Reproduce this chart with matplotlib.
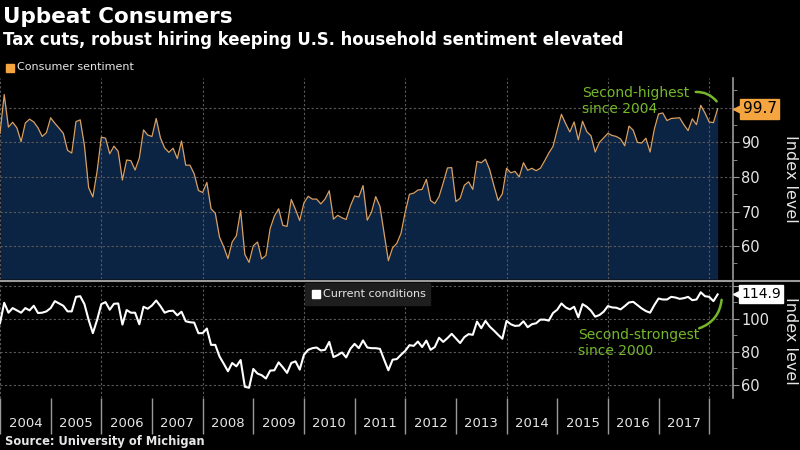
import numpy as np
import matplotlib.pyplot as plt
from matplotlib.ticker import MultipleLocator, FixedLocator, NullFormatter

# monthly values, Dec 2003 .. Feb 2018
sentiment = [
    92.6,
    103.8, 94.4, 95.8, 94.2, 90.2, 95.6, 96.7, 95.9, 94.2, 91.7, 92.8, 97.1,
    95.5, 94.1, 92.6, 87.7, 86.9, 96.0, 96.5, 89.1, 76.9, 74.2, 81.6, 91.5,
    91.2, 86.7, 88.9, 87.4, 79.1, 84.9, 84.7, 82.0, 85.4, 93.6, 92.1, 91.7,
    96.9, 91.3, 88.4, 87.1, 88.3, 85.3, 90.4, 83.4, 83.4, 80.9, 76.1, 75.5,
    78.4, 70.8, 69.5, 62.6, 59.8, 56.4, 61.2, 63.0, 70.3, 57.6, 55.3, 60.1,
    61.2, 56.3, 57.3, 65.1, 68.7, 70.8, 66.0, 65.7, 73.5, 70.6, 67.4, 72.5,
    74.4, 73.6, 73.6, 72.2, 73.6, 76.0, 67.8, 68.9, 68.2, 67.7, 71.6, 74.5,
    74.2, 77.5, 67.5, 69.8, 74.3, 71.5, 63.7, 55.8, 59.5, 60.8, 63.7, 69.9,
    75.0, 75.3, 76.2, 76.4, 79.3, 73.2, 72.3, 74.3, 78.3, 82.6, 82.7, 72.9,
    73.8, 77.6, 78.6, 76.4, 84.5, 84.1, 85.1, 82.1, 77.5, 73.2, 75.1, 82.5,
    81.2, 81.6, 80.0, 84.1, 81.9, 82.5, 81.8, 82.5, 84.6, 86.9, 88.8, 93.6,
    98.1, 95.4, 93.0, 95.9, 90.7, 96.1, 93.1, 91.9, 87.2, 90.0, 91.3, 92.6,
    92.0, 91.7, 91.0, 89.0, 94.7, 93.5, 90.0, 89.8, 91.2, 87.2, 93.8, 98.2,
    98.5, 96.3, 96.9, 97.0, 97.1, 95.1, 93.4, 96.8, 95.1, 100.7, 98.5, 95.9,
    95.7, 99.7,
]

current = [
    97.4,
    109.8, 103.8, 106.6, 105.2, 103.8, 106.6, 105.2, 108.0, 103.6, 103.8, 104.6, 106.6,
    110.8, 109.4, 108.0, 104.6, 104.6, 113.4, 113.8, 109.0, 99.4, 91.4, 99.4, 109.0,
    110.2, 105.6, 109.2, 109.4, 96.6, 105.4, 103.8, 103.8, 96.8, 107.4, 106.2, 108.2,
    111.2, 107.8, 103.8, 104.8, 105.0, 102.2, 104.4, 98.6, 98.0, 97.8, 91.4, 91.4,
    94.2, 84.3, 84.3, 77.3, 72.9, 68.3, 73.3, 71.3, 75.1, 58.9, 58.3, 69.7,
    66.9, 65.9, 63.9, 68.7, 68.9, 73.7, 70.7, 67.3, 73.3, 74.3, 69.3, 78.3,
    81.3, 82.3, 82.7, 80.9, 81.3, 86.1, 76.9, 78.1, 79.7, 76.7, 81.9, 84.9,
    82.3, 87.0, 82.7, 82.3, 82.3, 81.9, 75.3, 68.9, 75.3, 75.7, 78.3, 80.7,
    84.1, 83.7, 86.3, 83.0, 86.9, 81.3, 83.0, 88.6, 86.1, 88.4, 91.0, 88.2,
    85.4, 89.0, 90.8, 90.4, 98.4, 94.4, 98.8, 95.4, 93.0, 90.4, 88.0, 98.8,
    96.8, 95.8, 96.0, 98.6, 95.0, 96.8, 97.4, 99.6, 99.6, 99.0, 103.6, 105.6,
    109.4, 107.0, 105.8, 107.4, 101.0, 109.0, 107.4, 105.0, 101.4, 102.4, 104.4, 107.8,
    107.0, 106.8, 105.8, 107.8, 110.0, 110.4, 108.4, 106.4, 104.8, 103.8, 108.4, 112.4,
    111.8, 111.8, 113.4, 113.0, 112.2, 112.6, 113.4, 111.4, 111.8, 116.2, 113.8, 113.4,
    110.8, 114.9,
]

years = list(range(2004, 2018))
year_labels = [str(y) for y in years]

# month-end positions, Dec 2003 sits on 2004.0
x = 2004 + np.arange(len(sentiment)) / 12.0

BG = "black"
GRID = "#5a5a5a"
AXIS = "#9a9a9a"
TXT = "#e6e6e6"
GREEN = "#76b82a"
ORANGE = "#f4a53f"
NAVY = "#0c2443"

plt.rcParams['font.family'] = ['DejaVu Sans']

fig = plt.figure(figsize=(8, 4.5), dpi=100, facecolor=BG)
ax1 = fig.add_axes([0, 1 - 279 / 450, 733 / 800, (279 - 78) / 450])
ax2 = fig.add_axes([0, 1 - 398 / 450, 733 / 800, (398 - 283) / 450])

XMIN, XMAX = 2004.0, 2018.47

for ax in (ax1, ax2):
    ax.set_facecolor(BG)
    ax.set_xlim(XMIN, XMAX)
    for s in ("top", "left", "bottom"):
        ax.spines[s].set_visible(False)
    ax.spines["right"].set_color(AXIS)
    ax.spines["right"].set_linewidth(1.2)
    ax.yaxis.tick_right()
    ax.tick_params(axis="y", which="both", colors=AXIS, labelcolor=TXT,
                   labelsize=10.5, direction="out", pad=2)
    ax.tick_params(axis="y", which="major", length=4)
    ax.tick_params(axis="y", which="minor", length=3)
    for yr in range(2004, 2019, 2):
        ax.axvline(yr, color=GRID, lw=0.8, ls=(0, (2, 2)), zorder=2)

# top panel
ax1.set_ylim(50.5, 108.6)
ax1.yaxis.set_major_locator(FixedLocator([60, 70, 80, 90, 100]))
ax1.yaxis.set_major_formatter(lambda v, p: "" if v == 100 else f"{v:.0f}")
ax1.yaxis.set_minor_locator(MultipleLocator(5))
ax1.grid(axis="y", which="major", color=GRID, lw=0.8, ls=(0, (2, 2)), zorder=2)
ax1.set_axisbelow(False)
ax1.fill_between(x, sentiment, 50.5, color=NAVY, lw=0, zorder=1)
ax1.plot(x, sentiment, color="#d9a062", lw=0.9, zorder=3)
ax1.set_xticks([])

# bottom panel
ax2.set_ylim(52.1, 121.8)
ax2.yaxis.set_major_locator(FixedLocator([60, 80, 100, 120]))
ax2.yaxis.set_major_formatter(lambda v, p: "" if v == 120 else f"{v:.0f}")
ax2.yaxis.set_minor_locator(FixedLocator([70, 90, 110]))
ax2.grid(axis="y", which="major", color=GRID, lw=0.8, ls=(0, (2, 2)), zorder=2)
ax2.plot(x, current, color="white", lw=1.5, zorder=3)

ax2.set_xticks(range(2004, 2019))
ax2.xaxis.set_major_formatter(NullFormatter())
ax2.set_xticks([y + 0.5 for y in years], minor=True)
ax2.set_xticklabels(year_labels, minor=True)
ax2.tick_params(axis="x", which="major", length=26, color=AXIS, width=1)
ax2.tick_params(axis="x", which="minor", length=0, pad=14, labelsize=9.5,
                labelcolor=TXT)

# axis titles on the right
for yc in (178.5, 341):
    fig.text(790 / 800, 1 - yc / 450, "Index level", color=TXT, fontsize=11.5,
             rotation=270, va="center", ha="center")

# separator between panels
fig.add_artist(plt.Line2D([0, 1], [1 - 280.5 / 450] * 2, color=AXIS, lw=1.5))

# value tags
ax1.annotate("99.7", xy=(1, sentiment[-1]), xycoords=("axes fraction", "data"),
             xytext=(7, 0), textcoords="offset points", va="center", ha="left",
             fontsize=11, color="black", zorder=10, annotation_clip=False,
             bbox=dict(boxstyle="square,pad=0.15", fc=ORANGE, ec=ORANGE))
ax1.plot([1.005], [sentiment[-1]], marker="<", ms=6, color=ORANGE,
         transform=ax1.get_yaxis_transform(), clip_on=False, zorder=10)

ax2.annotate("114.9", xy=(1, current[-1]), xycoords=("axes fraction", "data"),
             xytext=(6, 0), textcoords="offset points", va="center", ha="left",
             fontsize=10, color="black", zorder=10, annotation_clip=False,
             bbox=dict(boxstyle="square,pad=0.15", fc="white", ec="white"))
ax2.plot([1.005], [current[-1]], marker="<", ms=6, color="white",
         transform=ax2.get_yaxis_transform(), clip_on=False, zorder=10)

# callouts
ax1.text(2015.49, 101.9, "Second-highest\nsince 2004", color=GREEN, fontsize=10,
         va="center", ha="left", linespacing=1.15, zorder=5)
ax1.annotate("", xy=(2018.18, 101.2), xytext=(2017.68, 104.5),
             arrowprops=dict(arrowstyle="-", color=GREEN, lw=1.8,
                             connectionstyle="arc3,rad=-0.3"), zorder=5)

ax2.text(2015.41, 85.5, "Second-strongest\nsince 2000", color=GREEN, fontsize=10,
         va="center", ha="left", linespacing=1.15, zorder=5)
ax2.annotate("", xy=(2017.75, 93.8), xytext=(2018.25, 113.3),
             arrowprops=dict(arrowstyle="-", color=GREEN, lw=1.8,
                             connectionstyle="arc3,rad=-0.35"), zorder=5)

# legends
fig.add_artist(plt.Rectangle((6 / 800, 1 - 72 / 450), 8 / 800, 8 / 450,
                             color=ORANGE, transform=fig.transFigure))
fig.text(17 / 800, 1 - 67.5 / 450, "Consumer sentiment", color=TXT, fontsize=8,
         va="center", ha="left")

fig.add_artist(plt.Rectangle((305 / 800, 1 - 305 / 450), 125 / 800, 22 / 450,
                             color="#1e1e1e", transform=fig.transFigure, zorder=4))
fig.add_artist(plt.Rectangle((312 / 800, 1 - 298 / 450), 8 / 800, 8 / 450,
                             color="white", transform=fig.transFigure, zorder=5))
fig.text(323 / 800, 1 - 294 / 450, "Current conditions", color=TXT, fontsize=8,
         va="center", ha="left", zorder=5)

# titles
fig.text(3 / 800, 1 - 17 / 450, "Upbeat Consumers", color="white", fontsize=15.5,
         fontweight="bold", va="center", ha="left")
fig.text(3 / 800, 1 - 40 / 450,
         "Tax cuts, robust hiring keeping U.S. household sentiment elevated",
         color="white", fontsize=11.9, fontweight="bold", va="center", ha="left")
fig.text(5 / 800, 1 - 442 / 450, "Source: University of Michigan", color=TXT,
         fontsize=8.3, fontweight="bold", va="center", ha="left")

fig.savefig("out.png", dpi=100, facecolor=BG)
